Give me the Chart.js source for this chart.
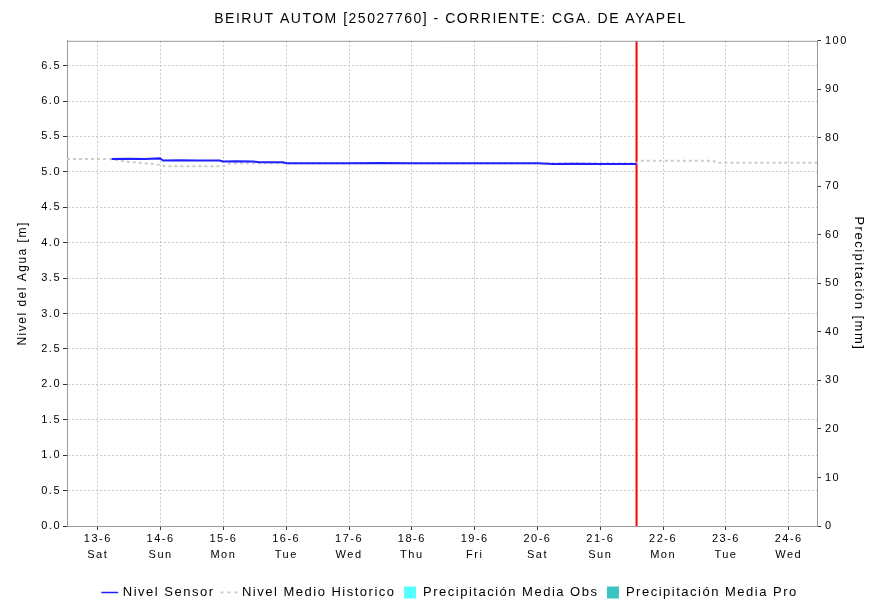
<!DOCTYPE html>
<html>
<head>
<meta charset="utf-8">
<script src="https://cdn.jsdelivr.net/npm/chart.js@4/dist/chart.umd.min.js"></script>
<style>
    html, body { margin: 0; padding: 0; background: #fff; }
    #wrap { width: 871px; height: 605px; }
</style>
</head>
<body>
<div id="wrap"><canvas id="nivelChart"></canvas></div>
<script>
// ----------------------
//  DATA
// ----------------------

// x values are days counted from 13-6 00:00
const dayLabels = [
    ['13-6', 'Sat'], ['14-6', 'Sun'], ['15-6', 'Mon'], ['16-6', 'Tue'],
    ['17-6', 'Wed'], ['18-6', 'Thu'], ['19-6', 'Fri'], ['20-6', 'Sat'],
    ['21-6', 'Sun'], ['22-6', 'Mon'], ['23-6', 'Tue'], ['24-6', 'Wed']
];
const levelTicks = [0, 0.5, 1, 1.5, 2, 2.5, 3, 3.5, 4, 4.5, 5, 5.5, 6, 6.5];

const sensorDays = [0.22, 0.5, 0.75, 0.99, 1.04, 1.3, 1.6, 1.94, 1.99, 2.2, 2.47, 2.58, 2.8, 2.95,
    3.01, 3.5, 4.0, 4.5, 5.0, 5.5, 6.0, 6.5, 7.0, 7.25, 7.6, 8.0, 8.3, 8.58];
const sensorLevel = [5.18, 5.185, 5.18, 5.19, 5.16, 5.165, 5.16, 5.16, 5.145, 5.15, 5.145, 5.135, 5.135, 5.135,
    5.12, 5.12, 5.12, 5.125, 5.12, 5.12, 5.12, 5.12, 5.12, 5.11, 5.115, 5.11, 5.11, 5.11];

const historicDays = [-0.49, 0.19, 0.5, 1.0, 1.07, 1.5, 2.0, 2.1, 2.5, 3.05, 4, 5, 6, 7, 8, 8.58,
    8.62, 9.2, 9.8, 9.85, 10.5, 11.45];
const historicLevel = [5.18, 5.18, 5.14, 5.10, 5.08, 5.08, 5.08, 5.12, 5.12, 5.12, 5.12, 5.12, 5.12, 5.12, 5.12, 5.12,
    5.155, 5.155, 5.155, 5.13, 5.13, 5.13];

// current time marker
const nowDay = 8.577;
const nowLevels = [0, 6.85];

const xMin = -0.49;
const xMax = 11.45;
const levelMax = 6.85;

// ----------------------
//  CHART
// ----------------------
const gridColor = '#c8c8c8';
const fontFamily = 'Liberation Sans';
const tickFont = { family: fontFamily, size: 11 };

function toPoints(xs, ys) {
    return xs.map((x, i) => ({ x: x, y: ys[i] }));
}

const chartData = {
    datasets: [{
        label: 'Nivel Sensor',
        data: toPoints(sensorDays, sensorLevel),
        borderColor: '#2020ff',
        borderWidth: 2,
        pointRadius: 0,
        pointStyle: 'line',
        yAxisID: 'y',
    }, {
        label: 'Nivel Medio Historico',
        data: toPoints(historicDays, historicLevel),
        borderColor: '#cccccc',
        borderWidth: 2,
        borderDash: [3, 3],
        pointRadius: 0,
        pointStyle: 'line',
        yAxisID: 'y',
    }, {
        label: 'Precipitación Media Obs',
        type: 'bar',
        data: [],
        backgroundColor: '#55ffff',
        borderWidth: 0,
        pointStyle: 'rect',
        yAxisID: 'y2',
    }, {
        label: 'Precipitación Media Pro',
        type: 'bar',
        data: [],
        backgroundColor: '#3cc4c4',
        borderWidth: 0,
        pointStyle: 'rect',
        yAxisID: 'y2',
    }, {
        label: '',
        data: nowLevels.map(v => ({ x: nowDay, y: v })),
        borderColor: '#ff0000',
        borderWidth: 2,
        pointRadius: 0,
        yAxisID: 'y',
    }]
};

function legendLabels(chart) {
    const items = Chart.defaults.plugins.legend.labels.generateLabels(chart);
    items.forEach(item => {
        const ds = chart.data.datasets[item.datasetIndex];
        if (ds.type !== 'bar') {
            item.strokeStyle = ds.borderColor;
            item.lineWidth = ds.borderDash ? 2 : 1.5;
            item.lineDash = ds.borderDash ? [3, 4] : [];
        } else {
            item.strokeStyle = ds.backgroundColor;
            item.lineWidth = 0;
        }
    });
    return items;
}

const options = {
    responsive: true,
    maintainAspectRatio: false,
    animation: false,
    layout: { padding: { left: 30, bottom: -4 } },
    plugins: {
        title: {
            display: true,
            text: 'BEIRUT AUTOM [25027760] - CORRIENTE: CGA. DE AYAPEL',
            color: '#000',
            font: { family: fontFamily, size: 14, weight: 'normal' },
            padding: { top: 11, bottom: 13 }
        },
        legend: {
            position: 'bottom',
            labels: {
                usePointStyle: true,
                boxHeight: 12,
                color: '#000',
                padding: 8,
                font: { family: fontFamily, size: 13 },
                generateLabels: legendLabels,
                filter: item => item.text !== ''
            }
        },
        tooltip: { enabled: false }
    },
    scales: {
        x: {
            type: 'linear',
            min: xMin,
            max: xMax,
            offset: false,
            afterBuildTicks: scale => {
                scale.ticks = dayLabels.map((d, i) => ({ value: i }));
            },
            afterFit: scale => { scale.height = 52; },
            ticks: {
                color: '#000',
                font: { family: fontFamily, size: 11, lineHeight: '16px' },
                maxRotation: 0,
                padding: 1,
                callback: value => dayLabels[value]
            },
            grid: { offset: false, color: gridColor, tickColor: '#333', tickLength: 4, tickBorderDash: [] },
            border: { color: '#999', dash: [2, 2] },
        },
        y: {
            position: 'left',
            min: 0,
            max: levelMax,
            afterBuildTicks: scale => {
                scale.ticks = levelTicks.map(v => ({ value: v }));
            },
            afterFit: scale => { scale.width = 37; },
            title: {
                display: true,
                text: 'Nivel del Agua [m]',
                color: '#000',
                font: { family: fontFamily, size: 12 },
                padding: { top: -15, bottom: 0 }
            },
            ticks: {
                color: '#000',
                font: tickFont,
                padding: 2,
                callback: value => value.toFixed(1)
            },
            grid: { color: gridColor, tickColor: '#333', tickLength: 4, tickBorderDash: [] },
            border: { color: '#999', dash: [2, 2] },
        },
        y2: {
            position: 'right',
            min: 0,
            max: 100,
            ticks: {
                stepSize: 10,
                color: '#000',
                font: tickFont,
                padding: 4,
            },
            afterFit: scale => { scale.width = 54; },
            title: {
                display: true,
                text: 'Precipitación [mm]',
                color: '#000',
                font: { family: fontFamily, size: 13 },
                padding: { top: 5, bottom: 0 }
            },
            grid: { drawOnChartArea: false, tickColor: '#333', tickLength: 4 },
            border: { color: '#999' },
        }
    }
};

// the original chart uses slightly widened lettering
function spaceLetters(chart) {
    chart.ctx.letterSpacing = '1.5px';
}
const wideText = {
    id: 'wideText',
    beforeUpdate: spaceLetters,
    beforeLayout: spaceLetters,
    resize: spaceLetters,
    beforeDraw: spaceLetters,
};

// frame line along the top of the plot
const topFrame = {
    id: 'topFrame',
    afterDraw(chart) {
        const a = chart.chartArea;
        const ctx = chart.ctx;
        ctx.save();
        ctx.strokeStyle = '#999';
        ctx.lineWidth = 1;
        ctx.beginPath();
        ctx.moveTo(a.left, a.top + 0.5);
        ctx.lineTo(a.right, a.top + 0.5);
        ctx.stroke();
        ctx.restore();
    }
};

let ctx = document.getElementById('nivelChart').getContext('2d');
let nivelChart = new Chart(ctx, {
    type: 'line',
    data: chartData,
    options: options,
    plugins: [wideText, topFrame],
});
</script>
</body>
</html>
